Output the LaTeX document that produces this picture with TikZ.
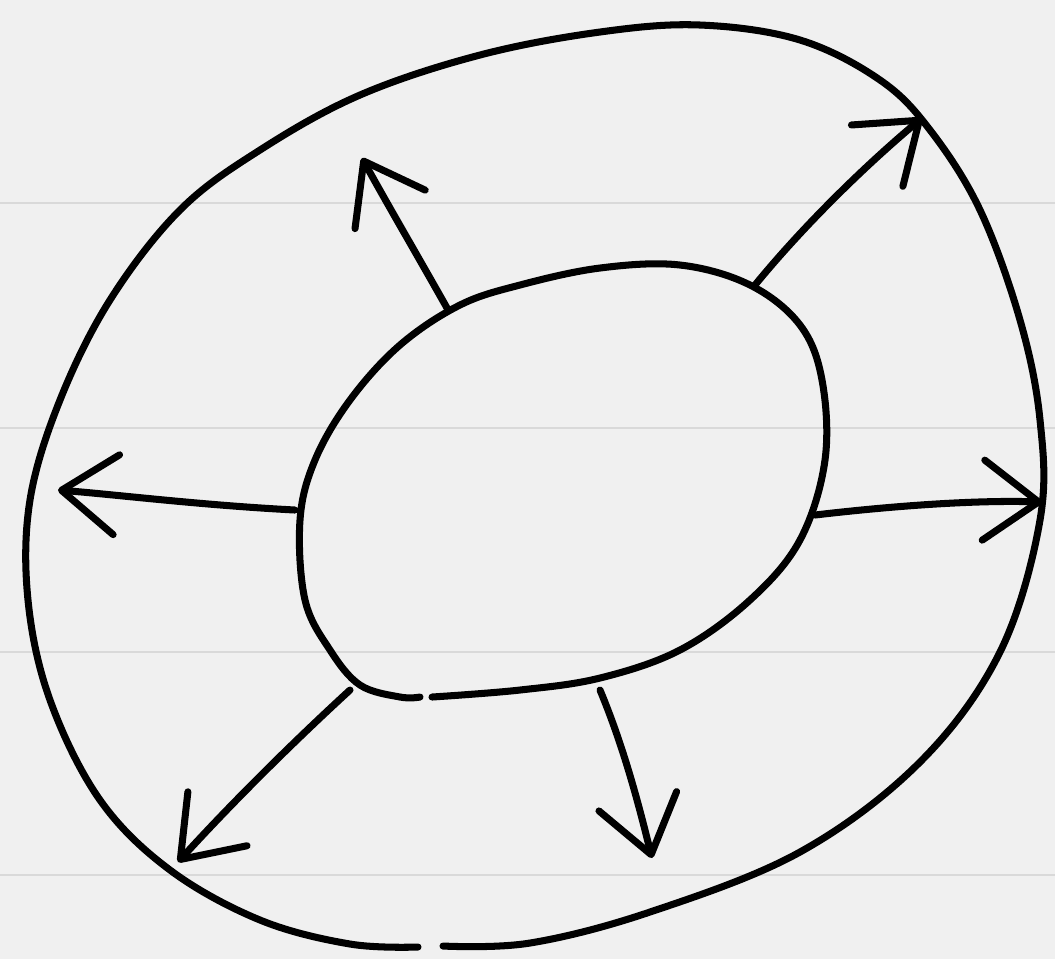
\documentclass[tikz,border=0pt]{standalone}
\usepackage{tikz}
\usetikzlibrary{arrows.meta,calc}

\tikzset{
  ring/.style={line width=2pt, line cap=round, line join=round},
  ray/.style={line width=2pt, line cap=round, line join=round,
    -{Straight Barb[length=5.5mm,width=8mm,round]}},
  ruled/.style={line width=0.6pt, draw=black!15}
}

\begin{document}
\begin{tikzpicture}[x=0.01cm,y=-0.01cm]
% Paper
\fill[black!6] (0,0) rectangle (1055,959);
\useasboundingbox (0,0) rectangle (1055,959);
\foreach \yy in {203,428,652,875}
  \draw[ruled] (0,\yy) -- (1055,\yy);

% Outer ring
\draw[ring] plot[smooth,tension=0.6] coordinates {
  (443,946) (530,943) (650,912) (800,852) (920,762) (1000,652)
  (1040,520) (1040,420) (1020,320) (980,210) (930,130) (880,80)
  (800,40) (700,25) (600,32) (480,55) (360,95) (260,150) (180,210)
  (110,300) (60,400) (30,500) (28,600) (50,700) (100,800) (170,870)
  (260,920) (350,944) (418,947)};

% Inner ring
\draw[ring] plot[smooth,tension=0.6] coordinates {
  (432,697) (520,690) (600,678) (680,650) (750,600) (800,540)
  (825,460) (822,380) (800,325) (750,285) (680,265) (600,268)
  (520,285) (460,305) (400,345) (350,400) (315,460) (300,520)
  (305,600) (330,650) (360,685) (400,697) (420,697)};

% Anchor points
\coordinate (in1) at (447,308);  \coordinate (out1) at (362,158);
\coordinate (in2) at (755,285);  \coordinate (out2) at (922,118);
\coordinate (in3) at (295,510);  \coordinate (out3) at (58,490);
\coordinate (in4) at (815,515);  \coordinate (out4) at (1042,502);
\coordinate (in5) at (350,690);  \coordinate (out5) at (178,862);
\coordinate (in6) at (600,690);  \coordinate (out6) at (652,858);

% Rays
\draw[ray] (in1) .. controls (420,260) and (385,200) .. (out1);
\draw[ray] (in2) .. controls (800,230) and (860,170) .. (out2);
\draw[ray] (in3) .. controls (200,505) and (120,495) .. (out3);
\draw[ray] (in4) .. controls (900,505) and (980,500) .. (out4);
\draw[ray] (in5) .. controls (290,745) and (230,805) .. (out5);
\draw[ray] (in6) .. controls (625,750) and (640,810) .. (out6);
\end{tikzpicture}
\end{document}
